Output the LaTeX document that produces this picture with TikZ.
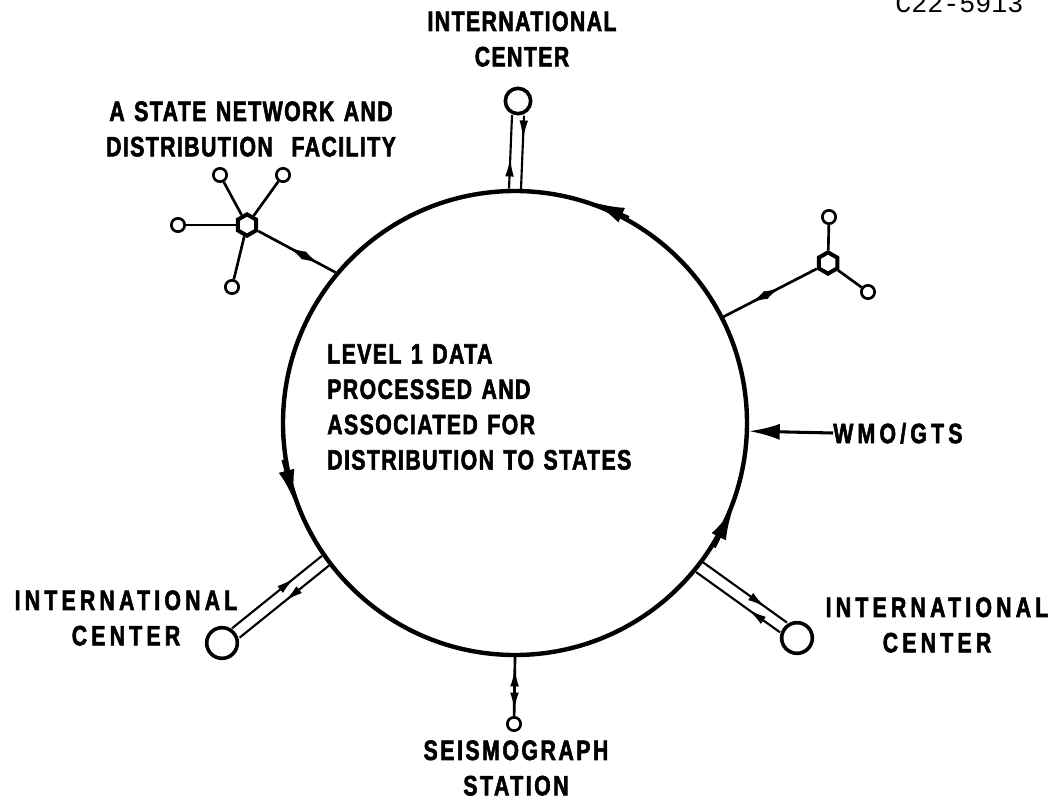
\documentclass[tikz,border=0pt]{standalone}
\usepackage{fontspec}
\setmainfont{Liberation Sans}
\newfontfamily\lbl{Liberation Sans}[FakeStretch=0.76,LetterSpace=5,WordSpace=1.3,FakeBold=2]
\newfontfamily\lblm{Liberation Sans}[FakeStretch=0.76,LetterSpace=9,WordSpace=1.3,FakeBold=2]
\newfontfamily\lblw{Liberation Sans}[FakeStretch=0.76,LetterSpace=15,WordSpace=1.3,FakeBold=2]
\newfontfamily\codefont{Liberation Mono}
\usetikzlibrary{arrows.meta,calc,decorations.markings,shapes.geometric}
\tikzset{
  lab/.style={font=\lbl\bfseries\fontsize{21}{26.5}\selectfont, align=center, inner sep=0pt},
  labm/.style={lab, font=\lblm\bfseries\fontsize{21}{26.5}\selectfont},
  labw/.style={lab, font=\lblw\bfseries\fontsize{21}{26.5}\selectfont},
  ring/.style={draw, circle, line width=3.3pt, minimum size=348pt, inner sep=0pt},
  icbig/.style={draw, circle, line width=2.7pt, minimum size=23pt, inner sep=0pt, fill=white},
  icsmall/.style={draw, circle, line width=2.7pt, minimum size=19pt, inner sep=0pt, fill=white},
  sat/.style={draw, circle, line width=2pt, minimum size=10pt, inner sep=0pt, fill=white},
  hub/.style={draw, regular polygon, regular polygon sides=6, shape border rotate=30,
              line width=3pt, minimum size=16pt, inner sep=0pt, fill=white},
  rail/.style={line width=1.6pt},
  link/.style={line width=2pt},
  flowtip/.style={line width=3.3pt, -{Latex[length=25pt,width=12pt]}},
  fa/.style={postaction={decorate,decoration={markings,
     mark=at position #1 with {\arrow{Latex[length=14pt,width=6.5pt]}}}}},
  ba/.style={postaction={decorate,decoration={markings,
     mark=at position #1 with {\arrowreversed{Latex[length=14pt,width=6.5pt]}}}}},
}
\begin{document}
\begin{tikzpicture}[x=0.75pt,y=-0.75pt]
\useasboundingbox (0,0) rectangle (1059,806);

% main circle and its text
\node[ring] (main) at (515,423) {};
\node[lab, align=left, anchor=north west] (txt) at (327,344)
  {LEVEL 1 DATA\\PROCESSED AND\\ASSOCIATED FOR\\DISTRIBUTION TO STATES};

% flow arrows on the circle
\draw[flowtip] (main.61) -- (main.71);
\draw[flowtip] (main.189) -- (main.200);
\draw[flowtip] (main.-32) -- (main.-21);

% international centers
\node[icsmall] (ic1) at (518,101) {};
\node[icbig] (ic2) at (222,643) {};
\node[icbig] (ic3) at (797,638) {};

\draw[rail, fa=0.42] ($(main.90)!4.5pt!90:(ic1.270)$) -- ($(ic1.270)!4.5pt!-90:(main.90)$);
\draw[rail, fa=0.32] ($(ic1.270)!4.5pt!90:(main.90)$) -- ($(main.90)!4.5pt!-90:(ic1.270)$);

\draw[rail, fa=0.7] ($(ic2.36)!4.5pt!90:(main.216)$) -- ($(main.216)!4.5pt!-90:(ic2.36)$);
\draw[rail, fa=0.5] ($(main.216)!4.5pt!90:(ic2.36)$) -- ($(ic2.36)!4.5pt!-90:(main.216)$);

\draw[rail, fa=0.75] ($(main.-38)!4.5pt!90:(ic3.142)$) -- ($(ic3.142)!4.5pt!-90:(main.-38)$);
\draw[rail, fa=0.38] ($(ic3.142)!4.5pt!90:(main.-38)$) -- ($(main.-38)!4.5pt!-90:(ic3.142)$);

% state network (left)
\node[hub] (hubA) at (247,225) {};
\node[sat] (a1) at (220,175) {};
\node[sat] (a2) at (283,175) {};
\node[sat] (a3) at (178,225) {};
\node[sat] (a4) at (232,287) {};
\draw[link] (hubA) -- (a1);
\draw[link] (hubA) -- (a2);
\draw[link] (hubA) -- (a3);
\draw[link] (hubA) -- (a4);
\draw[link, ba=0.38, fa=0.8] (hubA) -- (main.140);

% state network (right)
\node[hub] (hubB) at (828,263) {};
\node[sat] (b1) at (829,217) {};
\node[sat] (b2) at (868,292) {};
\draw[link] (hubB) -- (b1);
\draw[link] (hubB) -- (b2);
\draw[link, ba=0.38, fa=0.72] (hubB) -- (main.27);

% seismograph station
\node[sat] (seis) at (514,724) {};
\draw[link, ba=0.18, fa=0.92] (main.270) -- (seis);

% WMO/GTS
\node[labw, anchor=west, text depth=0pt] (wmo) at (833,433) {WMO/GTS};
\draw[line width=2.3pt, -{Latex[length=23pt,width=12pt]}] (wmo.west) -- (main.-2.5);

% labels
\node[lab] (l1) at (522,39) {INTERNATIONAL\\CENTER};
\node[lab] (l2) at (251,129) {A STATE NETWORK AND\\DISTRIBUTION\hspace{14pt}FACILITY};
\node[labw] (l3) at (126,618) {INTERNATIONAL\\CENTER};
\node[labw] (l4) at (937,625) {INTERNATIONAL\\CENTER};
\node[labm] (l5) at (516,768) {SEISMOGRAPH\\STATION};
\node[font=\codefont\fontsize{20}{24}\selectfont, inner sep=0pt, anchor=base west] (code) at (895,13) {C22-5913};
\end{tikzpicture}
\end{document}
